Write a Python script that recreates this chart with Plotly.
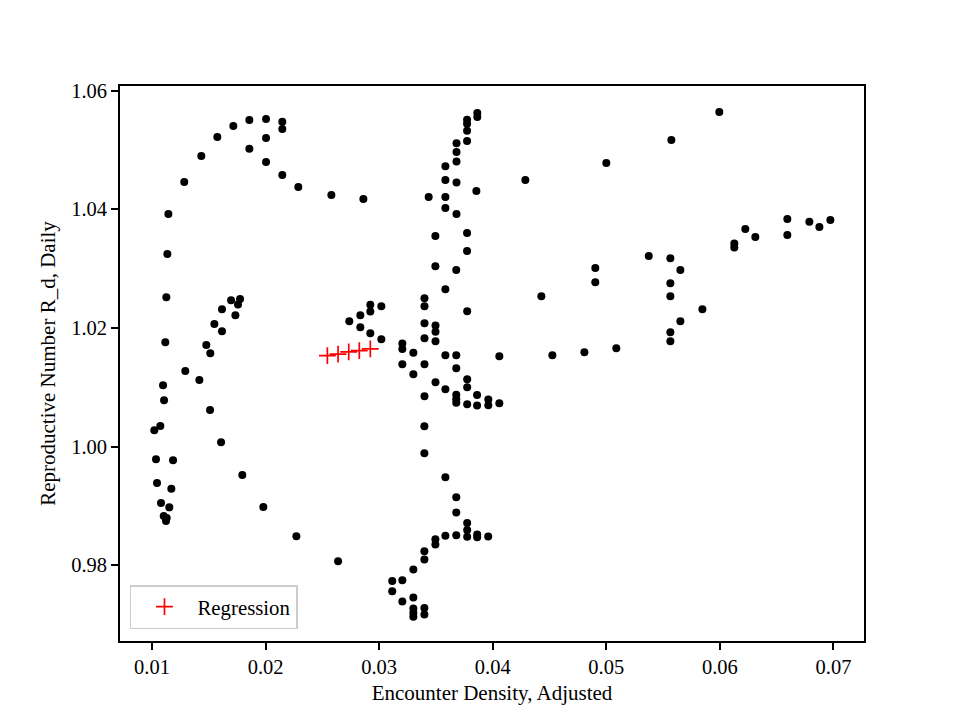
import plotly.graph_objects as go

# Observed points (Encounter Density, Adjusted vs Reproductive Number R_d, Daily)
density = [
    0.01857, 0.02004, 0.02147, 0.02147, 0.01716, 0.01575, 0.02004, 0.01857, 0.01434, 0.02004,
    0.02147, 0.01284, 0.02288, 0.02579, 0.02861, 0.01144, 0.01135, 0.01126, 0.01117,
    0.01696, 0.01775, 0.01757, 0.01616, 0.01734, 0.01549, 0.01616, 0.01478, 0.01513, 0.01293,
    0.01417, 0.01097, 0.01106, 0.01511, 0.01073, 0.01020, 0.01608, 0.01035, 0.01185, 0.01795,
    0.01044, 0.01170, 0.01079, 0.01152, 0.01103, 0.01129, 0.01123, 0.01980, 0.02271, 0.02638,
    0.02737, 0.02834, 0.02834, 0.02922, 0.02922, 0.03019, 0.02922, 0.03019,
    0.03864, 0.03864, 0.03774, 0.03774, 0.03774, 0.03774, 0.03681, 0.03681, 0.03681, 0.03583,
    0.03583, 0.03681, 0.03856, 0.03436, 0.03583, 0.03583, 0.03681, 0.03495, 0.03774, 0.03774,
    0.03495, 0.03679, 0.03583, 0.03399, 0.03399, 0.03775, 0.03399, 0.03496, 0.03496, 0.03399,
    0.03496, 0.03204, 0.03204, 0.03301, 0.03583, 0.03679, 0.04058, 0.03204, 0.03399, 0.03301,
    0.03679, 0.03775, 0.03775, 0.03496, 0.03583, 0.03399, 0.03679, 0.03679, 0.03679, 0.03862,
    0.03862, 0.03775, 0.03961, 0.03961, 0.04058, 0.03398, 0.03398, 0.03583, 0.03679, 0.03679,
    0.03775, 0.03775, 0.03775, 0.03863, 0.03863, 0.03960, 0.03583, 0.03679, 0.03495, 0.03495,
    0.03398, 0.03398, 0.03301, 0.03115, 0.03204, 0.03115, 0.03204, 0.03301, 0.03301, 0.03301,
    0.03301, 0.03398, 0.03398,
    0.05995, 0.05573, 0.05000, 0.04287, 0.06594, 0.06594, 0.06788, 0.06876, 0.06973, 0.06224,
    0.06312, 0.06127, 0.06127, 0.05374, 0.05564, 0.05652, 0.04903, 0.04903, 0.04428, 0.05564,
    0.05564, 0.05846, 0.05652, 0.05564, 0.05564, 0.05088, 0.04807, 0.04525,
]
r_daily = [
    1.05506, 1.05522, 1.05477, 1.05354, 1.05404, 1.05219, 1.05202, 1.05021, 1.04898, 1.04797,
    1.04577, 1.04459, 1.04375, 1.04240, 1.04172, 1.03919, 1.03244, 1.02518, 1.01759,
    1.02467, 1.02489, 1.02393, 1.02316, 1.02214, 1.02067, 1.01944, 1.01713, 1.01573, 1.01274,
    1.01122, 1.01033, 1.00780, 1.00616, 1.00346, 1.00273, 1.00071, 0.99784, 0.99767, 0.99519,
    0.99384, 0.99288, 0.99046, 0.98974, 0.98827, 0.98793, 0.98743, 0.98979, 0.98489, 0.98067,
    1.02113, 1.02214, 1.02012, 1.02388, 1.02275, 1.02366, 1.01911, 1.01809,
    1.05624, 1.05556, 1.05511, 1.05443, 1.05325, 1.05151, 1.05111, 1.04965, 1.04807, 1.04726,
    1.04495, 1.04451, 1.04309, 1.04206, 1.04206, 1.04022, 1.03921, 1.03549, 1.03598, 1.03295,
    1.03041, 1.02974, 1.02653, 1.02501, 1.02366, 1.02282, 1.02079, 1.02039, 1.01936, 1.01826,
    1.01775, 1.01738, 1.01646, 1.01581, 1.01539, 1.01539, 1.01522, 1.01387, 1.01387, 1.01219,
    1.01320, 1.01134, 1.00999, 1.01083, 1.00965, 1.00847, 1.00874, 1.00798, 1.00739, 1.00869,
    1.00692, 1.00714, 1.00791, 1.00697, 1.00731, 1.00341, 0.99885, 0.99480, 0.99143, 0.98889,
    0.98709, 0.98591, 0.98478, 0.98516, 0.98472, 0.98481, 0.98494, 0.98503, 0.98435, 0.98346,
    0.98233, 0.98096, 0.97927, 0.97733, 0.97747, 0.97561, 0.97387, 0.97455, 0.97269, 0.97195,
    0.97131, 0.97277, 0.97168,
    1.05641, 1.05168, 1.04780, 1.04493, 1.03835, 1.03565, 1.03789, 1.03700, 1.03818, 1.03666,
    1.03531, 1.03423, 1.03355, 1.03210, 1.03176, 1.02974, 1.03008, 1.02771, 1.02535, 1.02754,
    1.02535, 1.02316, 1.02113, 1.01927, 1.01775, 1.01657, 1.01590, 1.01539,
]

# Regression points
reg_density = [0.02544, 0.02638, 0.02732, 0.02825, 0.02922]
reg_r = [1.01532, 1.01556, 1.01595, 1.01617, 1.01646]

x_ticks = [0.01, 0.02, 0.03, 0.04, 0.05, 0.06, 0.07]
y_ticks = [0.98, 1.00, 1.02, 1.04, 1.06]

FONT = "Liberation Serif, Times New Roman, serif"

fig = go.Figure()
fig.add_trace(go.Scatter(
    x=density, y=r_daily, mode="markers", showlegend=False,
    marker=dict(color="black", size=8, line=dict(width=0)),
))
fig.add_trace(go.Scatter(
    x=reg_density, y=reg_r, mode="markers", name="Regression",
    marker=dict(symbol="cross-thin", color="red", size=12,
                line=dict(color="red", width=1.7)),
))

axis_common = dict(
    showline=True, linecolor="black", linewidth=1.6, mirror=True,
    ticks="outside", ticklen=7, tickwidth=1.6, tickcolor="black",
    showgrid=False, zeroline=False, automargin=False,
    tickfont=dict(family=FONT, size=20.5, color="black"),
)

fig.update_xaxes(
    range=[0.00718, 0.07269], tickvals=x_ticks,
    ticktext=[f"{v:.2f}" for v in x_ticks],
    title=dict(text="Encounter Density, Adjusted",
               font=dict(family=FONT, size=21, color="black"), standoff=8),
    **axis_common,
)
fig.update_yaxes(
    range=[0.96721, 1.06078], tickvals=y_ticks,
    ticktext=[f"{v:.2f}" for v in y_ticks],
    title=dict(text="Reproductive Number R_d, Daily",
               font=dict(family=FONT, size=21, color="black"), standoff=10),
    **axis_common,
)

fig.update_layout(
    width=960, height=720,
    margin=dict(l=112, r=104, t=78, b=87, pad=0),
    paper_bgcolor="white", plot_bgcolor="white",
    font=dict(family=FONT, size=20.8, color="black"),
    legend=dict(
        x=0.0134, y=0.0213, xanchor="left", yanchor="bottom",
        bgcolor="white", bordercolor="#cccccc", borderwidth=1.5,
        font=dict(family=FONT, size=20.8, color="black"),
        itemwidth=56,
    ),
)

fig.write_html("out.html")
